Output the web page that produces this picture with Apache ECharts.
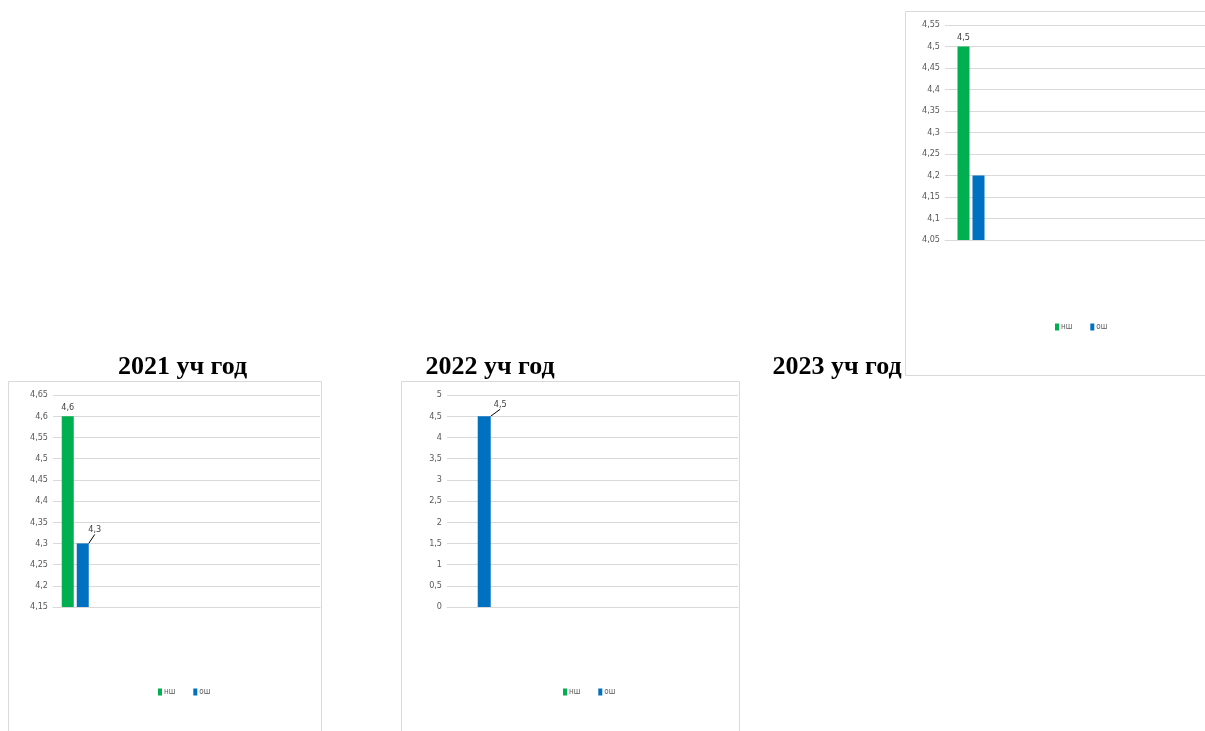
<!DOCTYPE html>
<html><head><meta charset="utf-8">
<script src="https://cdn.jsdelivr.net/npm/echarts@6/dist/echarts.min.js"></script>
<style>html,body{margin:0;padding:0;background:#fff}#c{width:1205px;height:731px}</style>
</head><body><div id="c"></div>
<script>
const years = ['2021 уч год', '2022 уч год', '2023 уч год'];
const seriesNames = ['нш', 'ош'];
const nsh = [4.6, null, 4.5];
const osh = [4.3, 4.5, 4.2];
const nshLabel = [true, false, true];
const oshLabel = [true, true, false];
const yMin = [4.15, 0, 4.05];
const yMax = [4.65, 5, 4.55];
const yStep = [0.05, 0.5, 0.05];

const colors = ['#00B050', '#0070C0'];
const font = "'Liberation Sans Narrow', 'DejaVu Sans Condensed', sans-serif";
const fmt = v => String(+(+v).toFixed(2)).replace('.', ',');

// layout per chart
const grids = [
  {left: 53, top: 395, width: 267, height: 212},
  {left: 447, top: 395, width: 291, height: 212},
  {left: 945, top: 25, width: 260, height: 215}
];
const bands = [6, 5, 5];
const barW = [12, 13, 12];
const titlePos = [[182.5, 354], [490, 354], [837, 354]];
const legendPos = [[158, 688], [563, 688], [1055, 323]];
const boxes = [[8.5, 381.5, 313, 360], [401.5, 381.5, 338, 360], [905.5, 11.5, 310, 364]];
const lblShift = [[12, -5], [16, -3], [11, -4]];

const option = {
  animation: false,
  textStyle: {fontFamily: font},
  graphic: boxes.map(b => ({type: 'rect', z: -10, shape: {x: b[0], y: b[1], width: b[2], height: b[3]},
    style: {fill: '#fff', stroke: '#d9d9d9', lineWidth: 1}})),
  title: years.map((t, i) => ({text: t, left: titlePos[i][0], top: titlePos[i][1], textAlign: 'center', padding: 0,
    textStyle: {fontFamily: "'Liberation Serif', serif", fontWeight: 'bold', fontSize: 26, color: '#000'}})),
  legend: years.map((t, i) => ({data: seriesNames, left: legendPos[i][0], top: legendPos[i][1], padding: 0,
    itemWidth: 4, itemHeight: 7, itemGap: 18, icon: 'rect',
    textStyle: {fontFamily: font, fontSize: 8, color: '#595959', padding: [0, 0, 0, -3]}})),
  grid: grids,
  xAxis: years.map((t, i) => ({type: 'category', gridIndex: i, data: [t], max: bands[i] - 1,
    axisLabel: {show: false}, axisTick: {show: false},
    axisLine: {show: true, lineStyle: {color: '#d9d9d9'}}})),
  yAxis: years.map((t, i) => ({type: 'value', gridIndex: i, min: yMin[i], max: yMax[i], interval: yStep[i],
    axisLine: {show: false}, axisTick: {show: false},
    splitLine: {lineStyle: {color: '#d9d9d9'}},
    axisLabel: {fontFamily: font, fontSize: 9, color: '#595959', margin: 5, formatter: fmt}})),
  series: []
};

years.forEach((t, i) => {
  option.series.push({
    name: seriesNames[0], type: 'bar', xAxisIndex: i, yAxisIndex: i,
    barWidth: barW[i], barGap: '25%', itemStyle: {color: colors[0]},
    data: [{value: nsh[i], label: {show: nshLabel[i]}}],
    label: {position: 'top', distance: 4, fontFamily: font, fontSize: 9, color: '#404040', formatter: p => fmt(p.value)}
  });
  option.series.push({
    name: seriesNames[1], type: 'bar', xAxisIndex: i, yAxisIndex: i,
    barWidth: barW[i], itemStyle: {color: colors[1]},
    data: [{value: osh[i], label: {show: oshLabel[i]}}],
    label: {position: 'top', distance: 4, fontFamily: font, fontSize: 9, color: '#404040', formatter: p => fmt(p.value)},
    labelLayout: {dx: lblShift[i][0], dy: lblShift[i][1]},
    labelLine: {show: true, lineStyle: {color: '#000', width: 1}}
  });
});

const chart = echarts.init(document.getElementById('c'), null, {renderer: 'canvas'});
chart.setOption(option);
</script></body></html>
